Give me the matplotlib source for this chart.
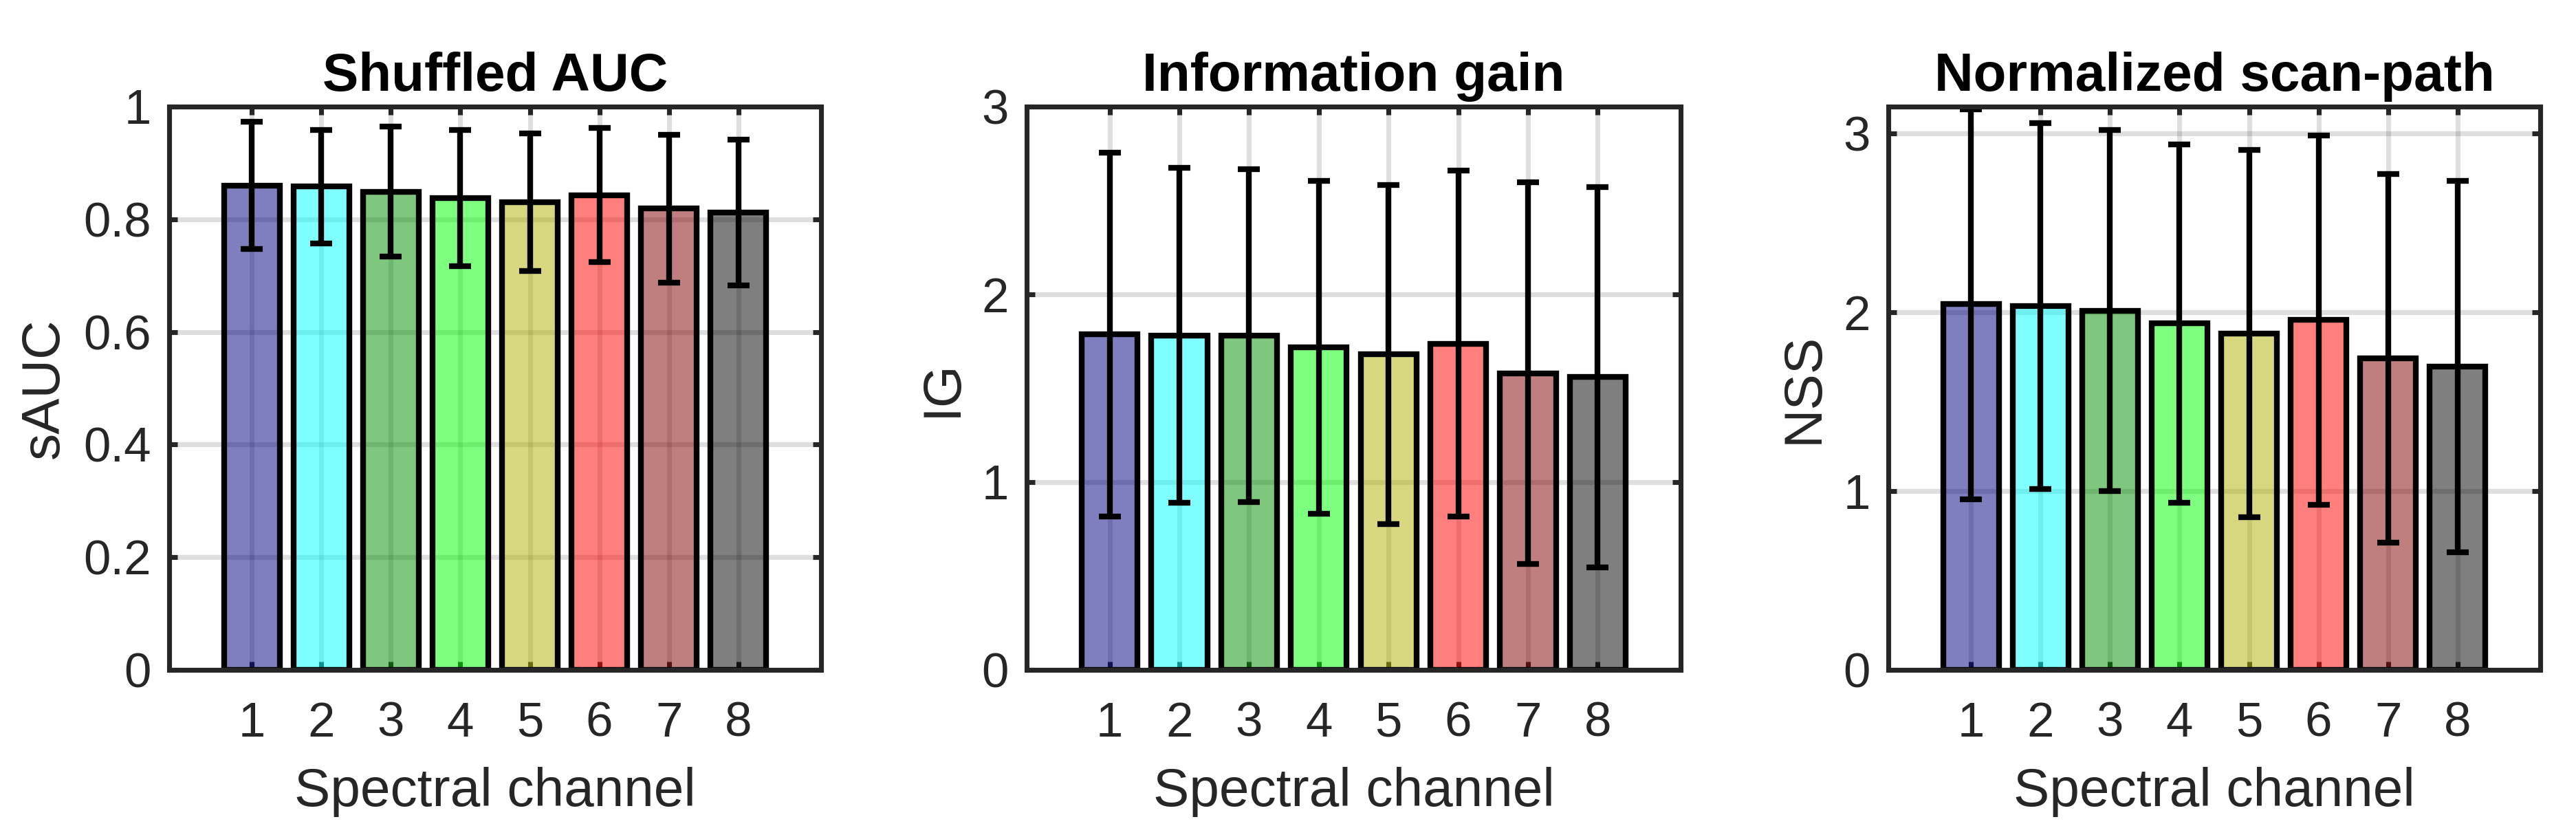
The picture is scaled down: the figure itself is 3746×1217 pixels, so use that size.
import numpy as np
import matplotlib
matplotlib.use("Agg")
import matplotlib.pyplot as plt

plt.rcParams['font.family'] = ['Liberation Sans', 'DejaVu Sans']

channels = [1, 2, 3, 4, 5, 6, 7, 8]

sauc_mean = [0.860, 0.858, 0.849, 0.838, 0.830, 0.843, 0.819, 0.812]
sauc_err = [0.113, 0.101, 0.115, 0.121, 0.122, 0.119, 0.131, 0.130]

ig_mean = [1.786, 1.782, 1.780, 1.718, 1.680, 1.738, 1.580, 1.560]
ig_err = [0.968, 0.893, 0.886, 0.888, 0.902, 0.920, 1.017, 1.013]

nss_mean = [2.045, 2.035, 2.009, 1.937, 1.880, 1.956, 1.741, 1.697]
nss_err = [1.090, 1.023, 1.009, 1.002, 1.027, 1.032, 1.031, 1.038]

bar_colors = [(0, 0, 0.5), (0, 1, 1), (0, 0.56, 0), (0, 1, 0),
              (0.69, 0.69, 0), (1, 0, 0), (0.5, 0, 0), (0, 0, 0)]

panels = [
    ("Shuffled AUC", "sAUC", sauc_mean, sauc_err, (0, 1), [0, 0.2, 0.4, 0.6, 0.8, 1], ["0", "0.2", "0.4", "0.6", "0.8", "1"]),
    ("Information gain", "IG", ig_mean, ig_err, (0, 3), [0, 1, 2, 3], ["0", "1", "2", "3"]),
    ("Normalized scan-path", "NSS", nss_mean, nss_err, (0, 3.15), [0, 1, 2, 3], ["0", "1", "2", "3"]),
]

W, H = 3746, 1217
dpi = 300
fig = plt.figure(figsize=(W / dpi, H / dpi), dpi=dpi)

lefts = [246, 1493, 2746]
rights = [1194, 2444, 3694]
top_px, bot_px = 155, 974

txt = (0.15, 0.15, 0.15)
lw = 1.7
blw = 2.0

for i, (title, ylabel, mean, err, ylim, yt, ytl) in enumerate(panels):
    ax = fig.add_axes([lefts[i] / W, 1 - bot_px / H, (rights[i] - lefts[i]) / W, (bot_px - top_px) / H])
    faces = [(r, g, b, 0.5) for (r, g, b) in bar_colors]
    ax.bar(channels, mean, width=0.8, color=faces, edgecolor='black', linewidth=blw, zorder=2)
    ax.errorbar(channels, mean, yerr=err, fmt='none', ecolor='black', elinewidth=blw,
                capsize=3.8, capthick=blw, zorder=3, clip_on=True)
    ax.set_xlim(-0.19, 9.19)
    ax.set_ylim(*ylim)
    ax.set_xticks(channels)
    ax.set_xticklabels([str(c) for c in channels])
    ax.set_yticks(yt)
    ax.set_yticklabels(ytl)
    ax.set_axisbelow(True)
    ax.grid(True, color=(0.15, 0.15, 0.15), alpha=0.15, linewidth=lw)
    ax.tick_params(direction='in', length=2.8, width=lw, top=True, right=True,
                   labelsize=17, colors=txt, pad=6.3)
    ax.tick_params(axis='x', pad=11)
    for s in ax.spines.values():
        s.set_linewidth(lw)
        s.set_color(txt)
        s.set_zorder(5)
    ax.set_title(title, fontsize=18.8, fontweight='bold', color='black', pad=5.5)
    ax.set_ylabel(ylabel, fontsize=18.8, color=txt, labelpad=5)
    ax.set_xlabel("Spectral channel", fontsize=18.8, color=txt, labelpad=7)

fig.savefig("out.png", dpi=dpi)
